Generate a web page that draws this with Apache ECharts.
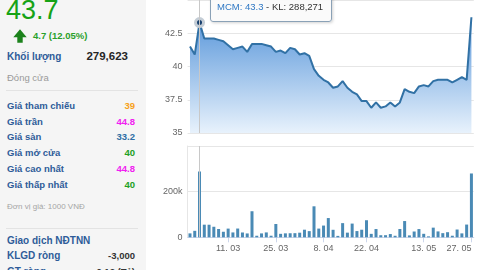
<!DOCTYPE html>
<html><head><meta charset="utf-8">
<script src="https://cdn.jsdelivr.net/npm/echarts@6/dist/echarts.min.js"></script>
<style>
html,body{margin:0;padding:0;width:480px;height:270px;overflow:hidden;background:#fff;font-family:"Liberation Sans",Arial,sans-serif;}
#chart{position:absolute;left:0;top:0;width:480px;height:270px;}
#panel{position:absolute;left:0;top:0;width:146px;height:270px;background:#f5f5f5;overflow:hidden;}
.t{position:absolute;white-space:nowrap;line-height:12px;height:12px;}
.lbl{left:7px;font-weight:bold;font-size:9.5px;color:#2e5c99;}
.val{right:11px;font-weight:bold;font-size:9.5px;text-align:right;}
.sep{position:absolute;left:6px;width:132px;height:1px;background:#e3e3e3;}
</style></head>
<body>
<div id="chart"></div>
<div id="panel">
  <div class="t" style="left:6px;top:-4px;font-size:27px;line-height:28px;height:28px;color:#16a316;">43.7</div>
  <svg style="position:absolute;left:0;top:0" width="40" height="50"><polygon points="20,29.3 26.7,37.3 22.7,37.3 22.7,42.7 17.3,42.7 17.3,37.3 13.3,37.3" fill="#1c821c"/></svg>
  <div class="t" style="left:33px;top:30px;font-size:9.5px;font-weight:bold;color:#2aa02a;">4.7 (12.05%)</div>
  <div class="t lbl" style="top:50.5px;font-size:10px;">Khối lượng</div>
  <div class="t" style="right:18px;top:50px;font-size:11.5px;font-weight:bold;color:#262626;">279,623</div>
  <div class="t" style="left:7px;top:71.5px;font-size:9.5px;color:#9a9a9a;">Đóng cửa</div>
  <div class="sep" style="top:90px;"></div>
  <div class="t lbl" style="top:99.7px;">Giá tham chiếu</div><div class="t val" style="top:99.7px;color:#f7a11a;">39</div>
  <div class="t lbl" style="top:115.7px;">Giá trần</div><div class="t val" style="top:115.7px;color:#f020f0;">44.8</div>
  <div class="t lbl" style="top:131.3px;">Giá sàn</div><div class="t val" style="top:131.3px;color:#2f6ea5;">33.2</div>
  <div class="t lbl" style="top:147.3px;">Giá mở cửa</div><div class="t val" style="top:147.3px;color:#22a022;">40</div>
  <div class="t lbl" style="top:163.3px;">Giá cao nhất</div><div class="t val" style="top:163.3px;color:#f020f0;">44.8</div>
  <div class="t lbl" style="top:178.5px;">Giá thấp nhất</div><div class="t val" style="top:178.5px;color:#22a022;">40</div>
  <div class="t" style="left:7px;top:200.7px;font-size:8px;color:#a5a5a5;">Đơn vị giá: 1000 VNĐ</div>
  <div class="sep" style="top:228px;"></div>
  <div class="t lbl" style="top:235px;font-size:10px;">Giao dịch NĐTNN</div>
  <div class="t lbl" style="top:250px;font-size:10px;">KLGD ròng</div><div class="t val" style="top:250px;color:#333;">-3,000</div>
  <div class="t lbl" style="top:265.5px;font-size:10px;">GT ròng</div><div class="t val" style="top:265.5px;color:#333;">-0.12 (Tỷ)</div>
</div>
<script>
const symbolName = 'MCM';
const year = 2024;
const categories = ['28/02','29/02',
 '01/03','04/03','05/03','06/03','07/03','08/03','11/03','12/03','13/03','14/03','15/03','18/03','19/03','20/03','21/03','22/03','25/03','26/03','27/03','28/03','29/03',
 '01/04','02/04','03/04','04/04','05/04','08/04','09/04','10/04','11/04','12/04','15/04','16/04','17/04','19/04','22/04','23/04','24/04','25/04','26/04',
 '02/05','03/05','06/05','07/05','08/05','09/05','10/05','13/05','14/05','15/05','16/05','17/05','20/05','21/05','22/05','23/05','24/05','27/05'];
const prices = [41.5, 40.9, 43.3, 42.1, 42.1, 42.1, 42.0, 41.9, 41.6, 41.3,
 41.4, 41.5, 41.1, 41.7, 41.7, 41.7, 41.6, 41.5, 41.1, 41.2,
 41.0, 41.4, 41.3, 40.9, 41.0, 40.8, 39.8, 39.3, 39.0, 38.8,
 38.4, 38.5, 38.9, 38.4, 38.1, 37.9, 37.4, 37.4, 36.9, 37.3,
 36.9, 37.0, 37.3, 37.0, 37.3, 38.3, 38.1, 38.0, 38.5, 38.6,
 38.5, 38.9, 39.0, 39.0, 39.0, 38.8, 39.0, 39.2, 39.0, 43.7];
const volumes = [17200, 28400, 288271, 55300, 55100, 46200, 36400, 24300, 38100, 21300,
 38400, 21100, 16900, 114200, 6800, 17100, 21400, 6900, 58300, 15200,
 17300, 17800, 18100, 20200, 33300, 27100, 135800, 38200,
 51400, 84300, 32900, 6200, 62100, 20400, 60100, 27300, 33200, 74800,
 15100, 36200, 9100, 9300, 14200, 6700, 36400, 71200, 8300, 25400, 36100, 15300,
 4100, 42300, 25800, 18200, 22400, 6900, 34100, 17200, 55800, 279623];
const tickDates = ['11/03','25/03','08/04','22/04','13/05','27/05'];
const tickLabels = ['11. 03','25. 03','8. 04','22. 04','13. 05','27. 05'];
const weekdayNames = ['Chủ Nhật','Thứ Hai','Thứ Ba','Thứ Tư','Thứ Năm','Thứ Sáu','Thứ Bảy'];
const hoverIndex = 2;

const chart = echarts.init(document.getElementById('chart'));
const isTick = (i, v) => tickDates.indexOf(v) >= 0;
const option = {
  animation: false,
  textStyle: {fontFamily: '"Liberation Sans", Arial, sans-serif'},
  axisPointer: {link: [{xAxisIndex: 'all'}]},
  grid: [
    {left: 187.6, width: 286.2, top: -23, height: 156},
    {left: 187.6, width: 286.2, top: 146, height: 91.3}
  ],
  xAxis: [
    {type: 'category', gridIndex: 0, data: categories, boundaryGap: true,
     axisLine: {show: false}, axisTick: {show: false}, axisLabel: {show: false}, splitLine: {show: false}},
    {type: 'category', gridIndex: 1, data: categories, boundaryGap: true,
     axisLine: {lineStyle: {color: '#ccd6eb'}},
     axisTick: {show: true, alignWithLabel: true, length: 5, interval: isTick, lineStyle: {color: '#ccd6eb'}},
     axisLabel: {interval: isTick, formatter: v => tickLabels[tickDates.indexOf(v)], fontSize: 9, color: '#666', margin: 7, alignMaxLabel: 'right'},
     splitLine: {show: false}}
  ],
  yAxis: [
    {type: 'value', gridIndex: 0, min: 35, max: 45, interval: 2.5,
     axisLine: {show: false},
     splitLine: {lineStyle: {color: '#e6e6e6'}},
     axisLabel: {fontSize: 9, color: '#666', margin: 5, padding: [0, 0, 8, 0], showMaxLabel: false}},
    {type: 'value', gridIndex: 1, min: 0, max: 400000, interval: 200000,
     axisLine: {show: true, lineStyle: {color: '#e6e6e6'}},
     splitLine: {lineStyle: {color: '#e6e6e6'}},
     axisLabel: {fontSize: 9, color: '#666', margin: 5, padding: [0, 0, 8, 0], showMaxLabel: false,
       formatter: v => v === 0 ? '0' : (v / 1000) + 'k'}}
  ],
  tooltip: {
    trigger: 'axis', alwaysShowContent: true, transitionDuration: 0,
    axisPointer: {type: 'line', lineStyle: {color: '#c8c8c8', width: 1, type: 'solid'}, label: {show: false}},
    position: () => [210, -17],
    backgroundColor: 'rgba(250,250,250,0.94)', borderColor: '#8aa1b6', borderWidth: 1,
    padding: [6, 8, 8, 6],
    extraCssText: 'border-radius:3px;box-shadow:1px 1px 3px rgba(0,0,0,0.18);',
    formatter: params => {
      const i = params[0].dataIndex;
      const parts = categories[i].split('/');
      const dt = new Date(year, +parts[1] - 1, +parts[0]);
      return '<div style="font-size:8.5px;color:#333;line-height:11px;font-family:Liberation Sans,Arial">' +
        weekdayNames[dt.getDay()] + ', ' + (+parts[0]) + '/' + parts[1] + '/' + year + '</div>' +
        '<div style="font-size:9.5px;line-height:12px;font-family:Liberation Sans,Arial"><span style="color:#2f78c4">' +
        symbolName + ': ' + prices[i] + '</span><span style="color:#333"> - KL: ' +
        volumes[i].toLocaleString('en-US') + '</span></div>';
    }
  },
  series: [
    {type: 'line', xAxisIndex: 0, yAxisIndex: 0, data: prices, showSymbol: false, symbol: 'none',
     lineStyle: {color: '#3171a5', width: 2},
     areaStyle: {opacity: 1, color: new echarts.graphic.LinearGradient(0, 0, 0, 1, [
       {offset: 0, color: '#5896da'}, {offset: 1, color: '#e8f2fc'}])},
     emphasis: {disabled: true},
     markPoint: {symbol: 'circle', symbolSize: 8, silent: true, label: {show: false},
       itemStyle: {color: '#173f6d', borderColor: '#c4cdd6', borderWidth: 3},
       data: [{coord: [categories[hoverIndex], prices[hoverIndex]]}]}},
    {type: 'bar', xAxisIndex: 1, yAxisIndex: 1, data: volumes, barWidth: 3,
     itemStyle: {color: '#4a8ab5'}, emphasis: {disabled: true}}
  ]
};
chart.setOption(option);
chart.dispatchAction({type: 'showTip', seriesIndex: 0, dataIndex: hoverIndex});
</script>
</body></html>
